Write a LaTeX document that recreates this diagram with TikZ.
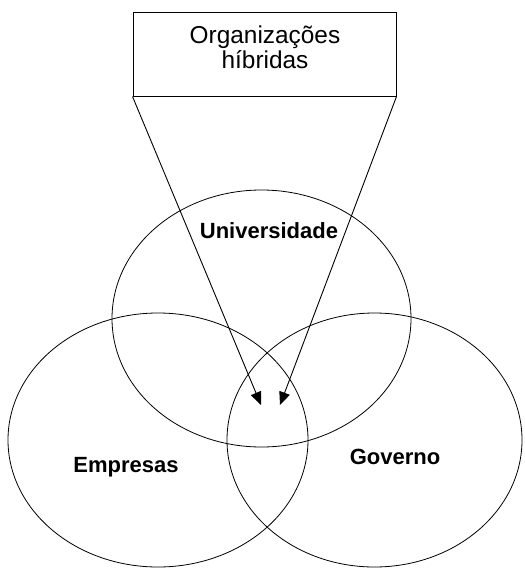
\documentclass[tikz,border=0pt]{standalone}
\usepackage{fontspec}
\setmainfont{Liberation Sans}
\usetikzlibrary{arrows.meta,shapes.geometric}

\begin{document}
\begin{tikzpicture}[x=1pt, y=-1pt, >={Triangle[length=13pt,width=11pt]},
  sphere/.style={ellipse, draw, line width=0.8pt, inner sep=0pt},
  sector/.style={font=\fontsize{22}{24}\selectfont\bfseries}]
\useasboundingbox (0,0) rectangle (525,568);

% 1. the three spheres
\node[sphere, minimum width=299pt, minimum height=257pt] (univ) at (261.5,318.5) {};
\node[sphere, minimum width=300pt, minimum height=254pt] (emp)  at (158,440) {};
\node[sphere, minimum width=295pt, minimum height=254pt] (gov)  at (374.5,440) {};

% 1.1. and their names
\node[sector] (univ-l) at (269,231) {Universidade};
\node[sector] (emp-l)  at (126,467) {Empresas};
\node[sector] (gov-l)  at (395,457) {Governo};

% 2. the box on top
\node[draw, line width=1pt, minimum width=263pt, minimum height=84pt] (hib) at (264.5,54) {};
\node[align=center, font=\fontsize{24.4}{25}\selectfont] (hib-t) at (265,47)
      {Organizações\\híbridas};

% 3. arrows down into the middle
\coordinate (tip-1) at (261,405);
\coordinate (tip-2) at (280,405);
\draw[->, line width=0.9pt] (hib.south west) -- (tip-1);
\draw[->, line width=0.9pt] (hib.south east) -- (tip-2);
\end{tikzpicture}
\end{document}
